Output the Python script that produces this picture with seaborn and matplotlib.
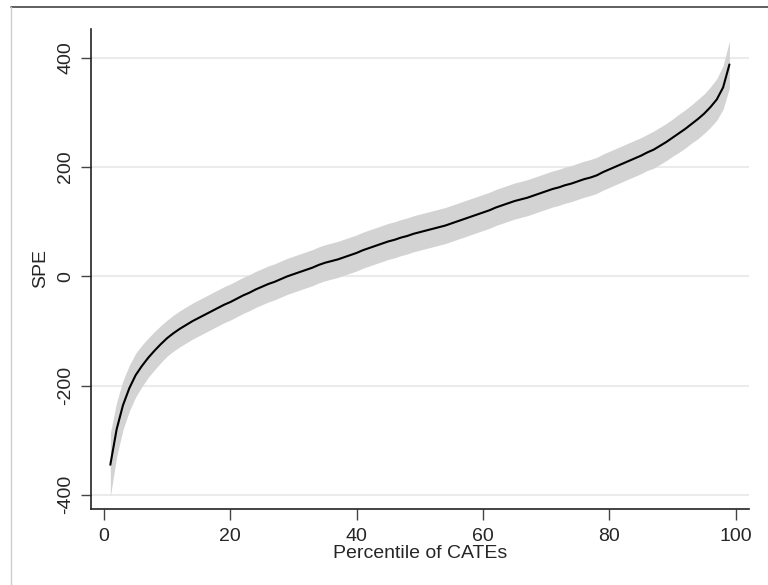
import matplotlib
matplotlib.use("Agg")
import matplotlib.pyplot as plt
import seaborn as sns
import pandas as pd
from matplotlib.lines import Line2D

# percentile of CATEs and estimated SPE
percentile = list(range(1, 100))
spe = [-345, -280, -236, -205, -181, -164, -149, -136, -124, -113,
       -104, -96, -89, -82, -76, -70, -64, -58, -52, -47,
       -41, -35, -30, -24, -19, -14, -10, -5, 0, 4,
       8, 12, 16, 21, 25, 28, 31, 35, 39, 43,
       48, 52, 56, 60, 64, 67, 71, 74, 78, 81,
       84, 87, 90, 93, 97, 101, 105, 109, 113, 117,
       121, 126, 130, 134, 138, 141, 144, 148, 152, 156,
       160, 163, 167, 170, 174, 178, 181, 185, 191, 196,
       201, 206, 211, 216, 221, 227, 232, 239, 246, 254,
       262, 270, 279, 288, 298, 310, 324, 346, 388]
# half width of the confidence band
ci_half = [58, 50, 45, 42, 40, 38, 36, 35, 34, 33,
           33, 33, 33, 33, 33, 33, 33, 33, 33, 33,
           33, 33, 33, 33, 33, 33, 33, 33, 33, 33,
           33, 33, 33, 33, 33, 33, 33, 33, 33, 33,
           33, 33, 33, 33, 33, 33, 33, 33, 33, 33,
           33, 33, 33, 33, 33, 33, 33, 33, 33, 33,
           33, 33, 33, 33, 33, 33, 33, 33, 33, 33,
           33, 33, 33, 33, 33, 33, 33, 33, 33, 33,
           33, 33, 33, 33, 33, 33, 34, 34, 34, 34,
           35, 35, 35, 36, 36, 37, 38, 40, 43]

df = pd.DataFrame({"Percentile": percentile, "SPE": spe, "half": ci_half})
df["lo"] = df["SPE"] - df["half"]
df["hi"] = df["SPE"] + df["half"]

sns.set_style("white")
plt.rcParams["font.family"] = ["Liberation Sans", "DejaVu Sans"]
plt.rcParams["axes.unicode_minus"] = False

fig = plt.figure(figsize=(7.68, 5.85), dpi=100)
ax = fig.add_axes([91/768, 1-509/585, (749-91)/768, (509-29)/585])

ax.fill_between(df["Percentile"], df["lo"], df["hi"], color="#d3d3d3", lw=0, zorder=1)
sns.lineplot(x="Percentile", y="SPE", data=df, color="black", lw=1.5, ax=ax, zorder=3)

ax.set_xlim(-2.06, 102.1)
ax.set_ylim(-426, 453)
ax.set_xticks([0, 20, 40, 60, 80, 100])
ax.set_yticks([-400, -200, 0, 200, 400])
ax.yaxis.grid(True, color="#ebebeb", lw=1.5, zorder=0)
ax.set_axisbelow(True)

for side in ["top", "right"]:
    ax.spines[side].set_visible(False)
for side in ["left", "bottom"]:
    ax.spines[side].set_color("#222222")
    ax.spines[side].set_linewidth(1.2)

ax.tick_params(axis="x", direction="out", length=8, width=1, color="#444444",
               labelsize=14, pad=6, bottom=True)
ax.tick_params(axis="y", direction="out", length=7, width=1, color="#444444",
               labelsize=14, pad=5, left=True)
for lab in ax.get_yticklabels():
    lab.set_rotation(90)
    lab.set_va("center")

ax.set_xlabel("Percentile of CATEs", fontsize=14, labelpad=0)
ax.set_ylabel("SPE", fontsize=14, labelpad=6)

# screenshot frame edges
fig.add_artist(Line2D([11/768, 1], [1-7/585, 1-7/585], color="#444444", lw=1.2))
fig.add_artist(Line2D([11/768, 11/768], [0, 1-7/585], color="#cccccc", lw=1.0))

plt.savefig("out.png", dpi=100)
